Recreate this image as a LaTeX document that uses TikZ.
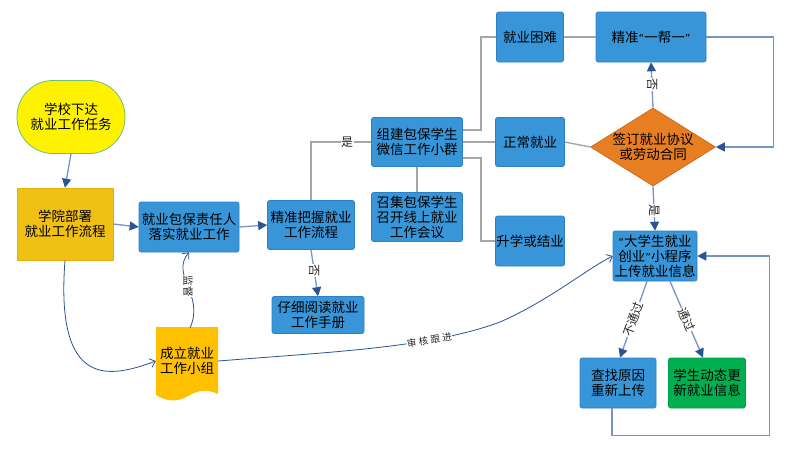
\documentclass[tikz,border=0pt]{standalone}
\usepackage{fontspec}
\setmainfont{Noto Sans CJK SC}
\newfontfamily\spacedcjk[LetterSpace=25]{Noto Sans CJK SC}
\newfontfamily\latinq{DejaVu Sans}
\newcommand{\myopenq}{{\latinq\fontsize{11}{12}\selectfont“}}
\newcommand{\mycloseq}{{\latinq\fontsize{11}{12}\selectfont”}}
\usetikzlibrary{arrows.meta,shapes.geometric}
\definecolor{boxblue}{RGB}{55,149,216}
\definecolor{boxedge}{RGB}{45,128,196}
\definecolor{gold1}{RGB}{241,192,20}
\definecolor{gold2}{RGB}{255,192,0}
\definecolor{orangedia}{RGB}{232,126,34}
\definecolor{greenbox}{RGB}{0,176,80}
\definecolor{grayline}{RGB}{166,166,166}
\definecolor{steel}{RGB}{118,148,196}
\definecolor{darkblue}{RGB}{43,84,145}
\tikzset{
  bluebox/.style={rectangle, rounded corners=2pt, fill=boxblue, draw=boxedge, line width=0.6pt, align=center, inner sep=0pt, text=black},
  grayconn/.style={draw=grayline, line width=1.4pt},
  blueconn/.style={draw=steel, line width=1.3pt, -{Triangle[length=9pt,width=9pt,fill=darkblue,color=darkblue]}},
  curveconn/.style={draw=darkblue, line width=0.8pt, -{Straight Barb[length=5pt,width=9pt]}},
  lab/.style={fill=white, inner sep=0.5pt, font=\fontsize{12}{13}\selectfont, text=black!85},
}
\begin{document}
\begin{tikzpicture}[x=1pt,y=-1pt, font=\fontsize{13.5}{15}\selectfont]
\useasboundingbox (0,0) rectangle (800,451);
\fill[white] (0,0) rectangle (800,451);

% nodes
\node[rectangle, rounded corners=36pt, fill=yellow, draw={rgb,255:red,110;green,190;blue,120}, line width=0.8pt, minimum width=108pt, minimum height=73pt, align=center, inner sep=0pt] (sx) at (71,117) {学校下达\\就业工作任务};
\node[rectangle, fill=gold1, draw={rgb,255:red,230;green,175;blue,10}, line width=0.6pt, minimum width=96pt, minimum height=72pt, align=center, inner sep=0pt] (xy) at (65,224) {学院部署\\就业工作流程};
\node[bluebox, minimum width=100pt, minimum height=50pt] (bb) at (189,227) {就业包保责任人\\落实就业工作};
\node[bluebox, minimum width=87pt, minimum height=49pt] (jz) at (311,225) {精准把握就业\\工作流程};
\node[bluebox, minimum width=92pt, minimum height=37pt] (zx) at (318,315) {仔细阅读就业\\工作手册};
\node[bluebox, minimum width=91pt, minimum height=49pt] (zj) at (417,142) {组建包保学生\\微信工作小群};
\node[bluebox, minimum width=91pt, minimum height=49pt] (zh) at (417,217) {召集包保学生\\召开线上就业\\工作会议};
\node[bluebox, minimum width=67pt, minimum height=50pt] (kn) at (530,37) {就业困难};
\node[bluebox, minimum width=69pt, minimum height=49pt] (zc) at (530,142) {正常就业};
\node[bluebox, minimum width=69pt, minimum height=50pt] (sx2) at (530,241) {升学或结业};
\node[bluebox, minimum width=110pt, minimum height=50pt] (bang) at (651,37) {精准\myopenq 一帮一\mycloseq};
\node[diamond, aspect=1.6, fill=orangedia, draw={rgb,255:red,200;green,100;blue,25}, line width=0.6pt, minimum width=123pt, minimum height=78pt, inner sep=0pt, align=center] (dia) at (653,147) {签订就业协议\\或劳动合同};
\node[bluebox, minimum width=84pt, minimum height=50pt] (up) at (655,256) {\myopenq 大学生就业\\创业\mycloseq 小程序\\上传就业信息};
\node[bluebox, minimum width=76pt, minimum height=50pt] (cz) at (618,383) {查找原因\\重新上传};
\node[rectangle, rounded corners=2pt, fill=greenbox, draw={rgb,255:red,0;green,160;blue,70}, line width=0.6pt, minimum width=77pt, minimum height=50pt, align=center, inner sep=0pt] (dt) at (707,383) {学生动态更\\新就业信息};

% document shape for 成立就业工作小组
\fill[gold2] (156,327) -- (218,327) -- (218,394)
  .. controls (208,389) and (198,390) .. (188,396)
  .. controls (176,403) and (166,401) .. (156,395) -- cycle;
\node[rectangle, minimum width=62pt, minimum height=66pt, inner sep=0pt, align=center] (g) at (187,361) {成立就业\\工作小组};

% gray connectors
\draw[grayconn] (jz.north) |- node[pos=0.8, lab]{是} (zj.west);
\draw[grayconn] (zj.south) -- (zh.north);
\draw[grayconn] ([yshift=12pt]zj.east) -- ++(18,0) |- (kn.west);
\draw[grayconn] (zj.east) -- (zc.west);
\draw[grayconn] ([yshift=-16pt]zj.east) -- ++(18,0) |- (sx2.west);
\draw[grayconn] (kn.east) -- (bang.west);
\draw[grayconn] (zc.east) -- (dia.west);

% blue connectors
\draw[blueconn] (sx.south) -- (xy.north);
\draw[blueconn] (xy.east) -- (bb.west);
\draw[blueconn] (bb.east) -- (jz.west);
\draw[blueconn] (jz.south) -- node[pos=0.45, lab, rotate=-90]{否} (zx.north);
\draw[blueconn] (bang.east) -| ([xshift=58pt]dia.east) -- (dia.east);
\draw[blueconn] (dia.north) -- node[pos=0.5, lab, rotate=-90]{否} (bang.south);
\draw[blueconn] (dia.south) -- node[pos=0.55, lab, rotate=-90]{是} (up.north);
\draw[blueconn] ([xshift=-8pt]up.south) -- node[pos=0.5, lab, rotate=70]{不通过} ([xshift=2pt]cz.north);
\draw[blueconn] ([xshift=15pt]up.south) -- node[pos=0.5, lab, rotate=-66]{通过} ([xshift=-4pt]dt.north);
\draw[blueconn] ([xshift=-6pt]cz.south) -- ++(0,27) -| ([xshift=72pt]up.east) -- (up.east);

% curved connectors
\draw[curveconn] (xy.south) .. controls (55,390) and (110,378) .. (g.west);
\draw[curveconn] ([xshift=3pt]g.north) .. controls (205,295) and (170,275) .. node[pos=0.5, lab, rotate=-90, font=\fontsize{10.5}{11}\selectfont]{监督} (bb.south);
\draw[curveconn] (g.east) .. controls (330,352) and (430,348) .. node[pos=0.7, lab, rotate=9, font=\spacedcjk\fontsize{9.5}{10}\selectfont]{审核跟进} (500,322) .. controls (550,300) and (585,270) .. (up.west);

\end{tikzpicture}
\end{document}
